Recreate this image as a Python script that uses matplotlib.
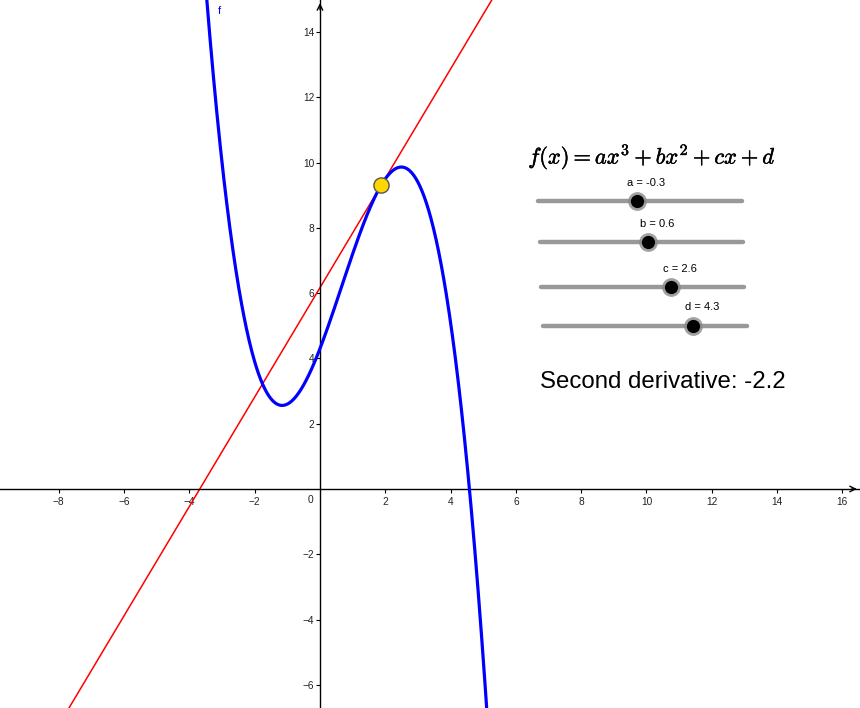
import numpy as np
import matplotlib
matplotlib.use("Agg")
import matplotlib.pyplot as plt
import matplotlib.patheffects as pe

plt.rcParams['font.family'] = ['Liberation Sans', 'DejaVu Sans']
plt.rcParams['mathtext.fontset'] = 'cm'

# cubic coefficients shown on the sliders
coef_names = ["a", "b", "c", "d"]
coef_vals = [-0.3, 0.6, 2.6, 4.3]
# x of the tangent point
x0 = 1.88

x_ticks = [-8, -6, -4, -2, 2, 4, 6, 8, 10, 12, 14, 16]
y_ticks = [-6, -4, -2, 2, 4, 6, 8, 10, 12, 14]

W, H = 860, 708
fig = plt.figure(figsize=(W / 100, H / 100), dpi=100)
ax = fig.add_axes([0, 0, 1, 1])
ax.set_xlim(-9.80, 16.54)
ax.set_ylim(-6.71, 14.98)

# axes through the origin
for s in ["top", "right"]:
    ax.spines[s].set_visible(False)
ax.spines["left"].set_position(("data", 0))
ax.spines["bottom"].set_position(("data", 0))
ax.spines["left"].set_linewidth(1.0)
ax.spines["bottom"].set_linewidth(1.0)
ax.set_xticks(x_ticks)
ax.set_yticks(y_ticks)
ax.set_xticklabels([f"{t}".replace("-", "\u2212") for t in x_ticks])
ax.set_yticklabels([f"{t}".replace("-", "\u2212") for t in y_ticks])
ax.tick_params(direction="out", length=3, width=0.8, labelsize=7.3,
               labelcolor="#222222")
ax.tick_params(axis="y", pad=1)
ax.tick_params(axis="x", pad=2.5)
ax.text(-0.2, -0.33, "0", ha="right", va="center", fontsize=7.3,
        color="#222222")

# arrow heads at the axis ends
ax.annotate("", xy=(16.53, 0), xytext=(16.2, 0),
            arrowprops=dict(arrowstyle="->", lw=1.0, color="black",
                            mutation_scale=10))
ax.annotate("", xy=(0, 14.97), xytext=(0, 14.6),
            arrowprops=dict(arrowstyle="->", lw=1.0, color="black",
                            mutation_scale=10))

xs = np.linspace(-9.8, 16.5, 2000)
ys = np.polyval(coef_vals, xs)
ax.plot(xs, ys, color="#0000FF", lw=2.3, zorder=3)
ax.text(-3.12, 14.64, "f", color="#0000FF", fontsize=8, ha="left", va="center")

# tangent line at x0
y0 = np.polyval(coef_vals, x0)
slope = np.polyval(np.polyder(coef_vals), x0)
ax.plot(xs, y0 + slope * (xs - x0), color="#FF0000", lw=1.1, zorder=2)
ax.scatter([x0], [y0], s=120, color="#FFD700", edgecolor="#555555",
           linewidth=1.0, zorder=5)

second = np.polyval(np.polyder(coef_vals, 2), x0)


def fx(px):
    return px / W


def fy(py):
    return 1 - py / H


# sliders (pixel layout)
slider_rows = [(538, 742, 201, 637, 183), (540, 743, 242, 648, 224),
               (541, 744, 287, 671, 269), (543, 747, 326, 693, 307)]
for name, val, (xl, xr, yy, xk, yl) in zip(coef_names, coef_vals, slider_rows):
    fig.add_artist(plt.Line2D([fx(xl), fx(xr)], [fy(yy), fy(yy)], color="#999999",
                              lw=3.2, solid_capstyle="round"))
    fig.add_artist(plt.Line2D([fx(xk)], [fy(yy)], marker="o", markersize=13.5,
                              color="#888888", alpha=0.8, markeredgewidth=0))
    fig.add_artist(plt.Line2D([fx(xk)], [fy(yy)], marker="o", markersize=9.5,
                              color="black", markeredgewidth=0))
    fig.text(fx(xk + 9), fy(yl), f"{name} = {val}", fontsize=8, ha="center",
             va="center", color="black")

fig.text(fx(652), fy(157), r"$f(x) = ax^3 + bx^2 + cx + d$",
         fontsize=16.2, ha="center", va="center",
         path_effects=[pe.withStroke(linewidth=0.35, foreground="black")])
fig.text(fx(540), fy(382), f"Second derivative: {second:.1f}", fontsize=17.3,
         ha="left", va="center", color="black")

fig.savefig("out.png", dpi=100)
